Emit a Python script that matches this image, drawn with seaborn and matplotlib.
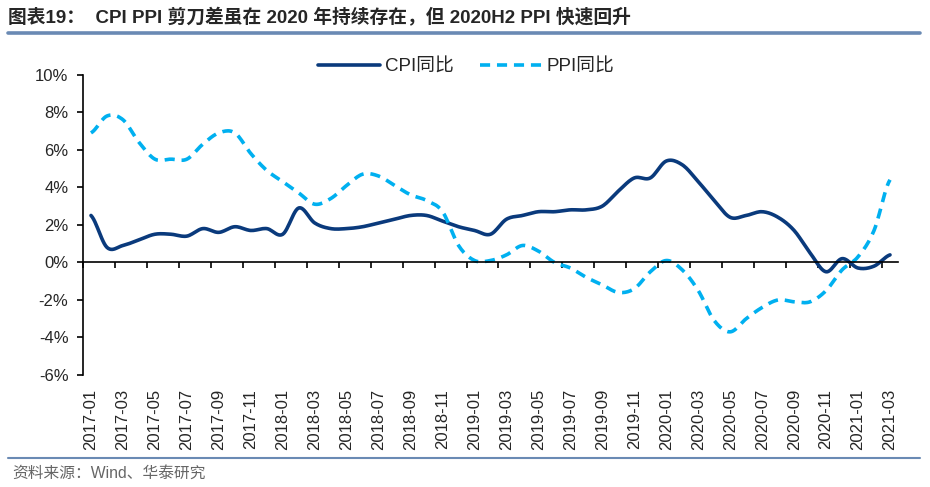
import numpy as np
import pandas as pd
import matplotlib
matplotlib.use("Agg")
import matplotlib.pyplot as plt
import seaborn as sns

# ---- data (YoY, %) ----
months = pd.period_range("2017-01", "2021-03", freq="M").strftime("%Y-%m").tolist()
cpi = [2.5, 0.8, 0.9, 1.2, 1.5, 1.5, 1.4, 1.8, 1.6, 1.9, 1.7, 1.8,
       1.5, 2.9, 2.1, 1.8, 1.8, 1.9, 2.1, 2.3, 2.5, 2.5, 2.2, 1.9,
       1.7, 1.5, 2.3, 2.5, 2.7, 2.7, 2.8, 2.8, 3.0, 3.8, 4.5, 4.5,
       5.4, 5.2, 4.3, 3.3, 2.4, 2.5, 2.7, 2.4, 1.7, 0.5, -0.5, 0.2,
       -0.3, -0.2, 0.4]
ppi = [6.9, 7.8, 7.6, 6.4, 5.5, 5.5, 5.5, 6.3, 6.9, 6.9, 5.8, 4.9,
       4.3, 3.7, 3.1, 3.4, 4.1, 4.7, 4.6, 4.1, 3.6, 3.3, 2.7, 0.9,
       0.1, 0.1, 0.4, 0.9, 0.6, 0.0, -0.3, -0.8, -1.2, -1.6, -1.4, -0.5,
       0.1, -0.4, -1.5, -3.1, -3.7, -3.0, -2.4, -2.0, -2.1, -2.1, -1.5, -0.4,
       0.3, 1.7, 4.4]
series_names = ["CPI同比", "PPI同比"]
yticks = list(range(-6, 11, 2))

title = "图表19：  CPI PPI 剪刀差虽在 2020 年持续存在，但 2020H2 PPI 快速回升"
source = "资料来源：Wind、华泰研究"

CPI_COLOR = "#0a3a7c"
PPI_COLOR = "#00b0f0"


def smooth_curve(y, per=12):
    """Catmull-Rom rendering of a series (like Excel's smoothed line)."""
    y = np.asarray(y, float)
    n = len(y)
    xs, ys = [], []
    for i in range(n - 1):
        p0 = y[i - 1] if i > 0 else y[i]
        p1, p2 = y[i], y[i + 1]
        p3 = y[i + 2] if i + 2 < n else y[i + 1]
        t = np.linspace(0, 1, per, endpoint=False)
        v = 0.5 * ((2 * p1) + (-p0 + p2) * t + (2 * p0 - 5 * p1 + 4 * p2 - p3) * t ** 2
                   + (-p0 + 3 * p1 - 3 * p2 + p3) * t ** 3)
        xs.extend(i + t)
        ys.extend(v)
    xs.append(n - 1)
    ys.append(y[-1])
    return np.array(xs), np.array(ys)


sns.set_style("white")
plt.rcParams["font.family"] = ["Liberation Sans", "Noto Sans CJK SC", "DejaVu Sans"]

fig = plt.figure(figsize=(9.3, 4.87), dpi=100)
ax = fig.add_axes([83 / 930, 1 - 375 / 487, (898 - 83) / 930, (375 - 74.7) / 487])

frames = []
for name, vals in zip(series_names, [cpi, ppi]):
    xs, ys = smooth_curve(vals)
    frames.append(pd.DataFrame({"x": xs, "y": ys, "series": name}))
df = pd.concat(frames, ignore_index=True)

sns.lineplot(data=df[df.series == "CPI同比"], x="x", y="y", ax=ax,
             color=CPI_COLOR, lw=2.6, label="CPI同比", sort=False)
sns.lineplot(data=df[df.series == "PPI同比"], x="x", y="y", ax=ax,
             color=PPI_COLOR, lw=2.6, label="PPI同比", sort=False,
             linestyle=(0, (2.8, 1.9)))

ax.set_xlim(-0.5, len(months) - 0.5)
ax.set_ylim(-6, 10)
ax.set_xlabel("")
ax.set_ylabel("")
ax.grid(False)

# y axis
ax.set_yticks(yticks)
ax.set_yticklabels([f"{v}%" for v in yticks], fontsize=12)
ax.tick_params(axis="y", left=True, direction="out", length=4.5, width=1.2,
               color="black", pad=6)

# zero line carries the category tick marks
ax.spines["bottom"].set_position(("data", 0))
for s in ("bottom", "left"):
    ax.spines[s].set_linewidth(1.2)
    ax.spines[s].set_color("black")
ax.spines["top"].set_visible(False)
ax.spines["right"].set_visible(False)
ax.set_xticks([p - 0.5 for p in range(0, len(months) + 1, 2)])
ax.tick_params(axis="x", bottom=True, direction="out", length=4.5, width=1.2,
               color="black", labelbottom=False)

# category labels below the plot area
label_pos = list(range(0, len(months), 2))
sec = ax.secondary_xaxis(0.0)
sec.spines["bottom"].set_visible(False)
sec.set_xticks(label_pos)
sec.set_xticklabels([months[i] for i in label_pos], rotation=90, fontsize=12)
sec.tick_params(axis="x", length=0, pad=10)

leg = ax.legend(loc="upper center", bbox_to_anchor=(0.47, 1.11), ncol=2, frameon=False,
                fontsize=13.5, handlelength=3.3, columnspacing=1.4, handletextpad=0.25)

# title, rules and source
fig.text(8 / 930, 1 - 18 / 487, title, fontsize=13.5, fontweight="bold",
         family=["Liberation Sans", "Noto Sans CJK SC"], va="center", ha="left")
fig.add_artist(plt.Line2D([8 / 930, 920 / 930], [1 - 33 / 487] * 2, color="#6a8ab4", lw=2.6))
fig.add_artist(plt.Line2D([8 / 930, 920 / 930], [1 - 458 / 487] * 2, color="#6a8ab4", lw=1.5))
fig.text(12 / 930, 1 - 473 / 487, source, fontsize=11.3, color="#666666",
         family=["Liberation Sans", "Noto Sans CJK SC"], va="center", ha="left")

fig.savefig("out.png", dpi=100)
